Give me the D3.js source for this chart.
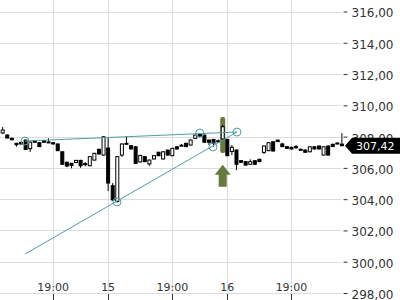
<!DOCTYPE html>
<html>
<head>
<meta charset="utf-8">
<script src="https://cdn.jsdelivr.net/npm/d3@7"></script>
<style>
body { margin: 0; background: #fff; }
svg { display: block; font-family: "DejaVu Sans", sans-serif; }
</style>
</head>
<body>
<svg id="chart" width="400" height="300"></svg>
<script>
const svg = d3.select('#chart')
const width = 400
const height = 300
const gridColor = '#dcdcdc'
const textColor = '#333'
const lineColor = '#4f9ea6'
const signalColor = '#68793b'

// candles, left to right
const opens = [308.23,308.10,307.89,307.57,307.63,307.78,307.23,307.74,307.61,307.74,
	307.66,307.61,307.53,307.03,306.36,306.29,306.34,306.48,306.27,306.14,
	306.50,307.19,306.82,307.27,304.86,303.84,306.82,307.53,307.42,307.35,
	306.38,306.72,306.25,306.57,307.00,306.57,307.14,306.78,307.35,307.40,
	307.57,307.46,307.89,308.15,308.10,307.78,307.82,307.73,307.85,307.82,
	307.05,307.14,306.46,306.40,306.23,306.46,306.55,306.99,307.10,307.67,
	307.78,307.53,307.36,307.32,307.34,307.19,307.14,307.03,307.35,307.40,
	306.82,307.40,307.51,307.55,307.52]
const highs = [308.61,308.14,307.93,307.60,307.66,307.80,307.68,307.77,307.63,307.76,
	307.89,307.63,307.55,307.05,306.40,306.32,306.51,306.52,306.37,306.75,
	306.96,307.22,308.02,307.97,305.03,306.76,307.56,308.04,307.46,307.38,
	306.83,306.75,306.53,306.81,307.03,307.06,307.17,307.28,307.38,307.53,
	307.60,307.81,308.13,308.18,308.13,307.81,307.85,307.82,308.74,307.85,
	307.46,307.17,306.49,306.43,306.55,306.49,306.58,307.43,307.64,307.70,
	307.80,307.61,307.38,307.34,307.46,307.23,307.17,307.38,307.38,307.43,
	307.38,307.43,307.54,307.63,308.22]
const lows = [308.16,307.88,307.76,307.36,307.50,307.15,307.02,307.62,307.33,307.62,
	307.60,307.50,307.08,306.20,306.04,305.97,306.32,306.00,306.10,306.10,
	306.46,306.86,306.78,304.52,303.90,303.80,306.70,307.50,307.18,306.26,
	306.35,306.37,306.14,306.54,306.75,306.54,306.79,306.75,307.18,307.36,
	307.33,307.43,307.86,307.97,307.61,307.46,307.36,307.61,307.82,306.75,
	306.82,305.86,306.33,306.15,306.20,306.20,306.37,306.89,307.07,307.05,
	307.66,307.33,307.22,307.18,307.21,307.12,306.97,307.00,307.18,307.18,
	306.79,306.79,307.33,307.50,307.38]
const closes = [308.42,307.91,307.80,307.48,307.53,307.18,307.65,307.64,307.36,307.64,
	307.62,307.53,307.10,306.23,306.12,306.16,306.48,306.14,306.23,306.72,
	306.93,306.89,307.99,305.03,303.95,306.72,307.53,307.57,307.21,306.29,
	306.80,306.40,306.50,306.78,306.78,307.03,306.82,307.25,307.21,307.45,
	307.36,307.78,308.10,308.00,307.64,307.64,307.57,307.71,308.63,306.78,
	307.32,306.23,306.36,306.18,306.40,306.23,306.40,307.40,307.61,307.08,
	307.68,307.36,307.25,307.21,307.36,307.16,307.00,307.35,307.21,307.21,
	307.35,306.82,307.36,307.59,307.42]

const xTickIdx = [11, 23, 37, 49, 63]
const xTickLabels = ['19:00', '15', '19:00', '16', '19:00']
const yTicks = [298, 300, 302, 304, 306, 308, 310, 312, 314, 316]

// trend lines [candle index, price]
const upperLine = [[4.86, 307.72], [51.1, 308.29]]
const lowerLine = [[4.86, 300.49], [51.1, 308.29]]
const anchors = [[4.86, 307.72], [43.0, 308.23], [51.1, 308.29], [24.93, 303.82], [45.88, 307.34]]

// signal: candle index, bar top/bottom price, arrow tip price
const signalIdx = 48
const signalBar = [309.25, 306.95]
const arrowTip = 306.2

const lastPrice = closes[closes.length - 1]

const xScale = d3.scaleLinear()
	.domain([0, opens.length - 1])
	.range([2.7, 341.9])

const yScale = d3.scaleLinear()
	.domain([298, 316])
	.range([293, 11.5])

const fmt = v => d3.format('.2f')(v).replace('.', ',')

// grid
svg.append('g')
	.selectAll('line')
	.data(yTicks)
	.enter()
	.append('line')
		.attr('x1', 0)
		.attr('x2', 341)
		.attr('y1', d => Math.round(yScale(d)) + 0.5)
		.attr('y2', d => Math.round(yScale(d)) + 0.5)
		.attr('stroke', gridColor)

svg.append('g')
	.selectAll('line')
	.data(xTickIdx)
	.enter()
	.append('line')
		.attr('x1', d => Math.round(xScale(d)) + 0.5)
		.attr('x2', d => Math.round(xScale(d)) + 0.5)
		.attr('y1', 0)
		.attr('y2', 294)
		.attr('stroke', gridColor)

// right axis
const yAxis = d3.axisRight(yScale)
	.tickValues(yTicks)
	.tickFormat(fmt)
	.tickSize(4)
	.tickPadding(4)

const yAxisG = svg.append('g')
	.attr('transform', 'translate(343.5, 0)')
	.call(yAxis)
yAxisG.select('path.domain').remove()
yAxisG.selectAll('.tick line').attr('stroke', textColor)
yAxisG.selectAll('.tick text')
	.attr('fill', textColor)
	.attr('dy', '0.45em')
	.style('font-size', '12px')
	.style('font-family', '"DejaVu Sans", sans-serif')

// bottom labels, ticks hang below
const xg = svg.append('g')
xg.selectAll('text')
	.data(xTickIdx)
	.enter()
	.append('text')
		.attr('x', d => xScale(d))
		.attr('y', 291)
		.attr('text-anchor', 'middle')
		.attr('font-size', '11px')
		.attr('fill', textColor)
		.text((d, i) => xTickLabels[i])
xg.selectAll('line')
	.data(xTickIdx)
	.enter()
	.append('line')
		.attr('x1', d => Math.round(xScale(d)) + 0.5)
		.attr('x2', d => Math.round(xScale(d)) + 0.5)
		.attr('y1', 294)
		.attr('y2', 300)
		.attr('stroke', textColor)

// signal bar behind the candle
svg.append('rect')
	.attr('x', xScale(signalIdx) - 2.5)
	.attr('y', yScale(signalBar[0]))
	.attr('width', 5)
	.attr('height', yScale(signalBar[1]) - yScale(signalBar[0]))
	.attr('rx', 2)
	.attr('fill', signalColor)

// candles
const candles = svg.selectAll('g.candle')
	.data(opens)
	.enter()
	.append('g')
		.attr('class', 'candle')
		.attr('transform', (d, i) => `translate(${xScale(i)}, 0)`)

candles.append('line')
	.attr('x1', 0)
	.attr('x2', 0)
	.attr('y1', (d, i) => yScale(highs[i]))
	.attr('y2', (d, i) => yScale(lows[i]))
	.attr('stroke', '#000')

candles.append('rect')
	.attr('x', -1.5)
	.attr('width', 3)
	.attr('y', (d, i) => yScale(Math.max(opens[i], closes[i])))
	.attr('height', (d, i) => Math.max(1, Math.abs(yScale(opens[i]) - yScale(closes[i]))))
	.attr('fill', (d, i) => closes[i] >= opens[i] ? '#fff' : '#000')
	.attr('stroke', '#000')
	.attr('stroke-width', 1)

// trend lines
const line = d3.line().x(d => xScale(d[0])).y(d => yScale(d[1]))
svg.append('path')
	.attr('d', line(upperLine))
	.attr('fill', 'none')
	.attr('stroke', lineColor)
svg.append('path')
	.attr('d', line(lowerLine))
	.attr('fill', 'none')
	.attr('stroke', lineColor)

svg.selectAll('circle.anchor')
	.data(anchors)
	.enter()
	.append('circle')
		.attr('class', 'anchor')
		.attr('cx', d => xScale(d[0]))
		.attr('cy', d => yScale(d[1]))
		.attr('r', 4)
		.attr('fill', 'none')
		.attr('stroke', lineColor)

// up arrow under signal
const ax = xScale(signalIdx)
const ay = yScale(arrowTip)
svg.append('path')
	.attr('d', `M${ax},${ay} L${ax + 8},${ay + 10} L${ax + 4},${ay + 10} L${ax + 4},${ay + 22} L${ax - 4},${ay + 22} L${ax - 4},${ay + 10} L${ax - 8},${ay + 10} Z`)
	.attr('fill', signalColor)

// last price tag
const py = yScale(lastPrice)
svg.append('path')
	.attr('d', `M345,${py} L352,${py - 8} L400,${py - 8} L400,${py + 8} L352,${py + 8} Z`)
	.attr('fill', '#000')
svg.append('text')
	.attr('x', 356)
	.attr('y', py + 4)
	.attr('fill', '#fff')
	.attr('font-size', '11px')
	.text(fmt(lastPrice))
</script>
</body>
</html>
